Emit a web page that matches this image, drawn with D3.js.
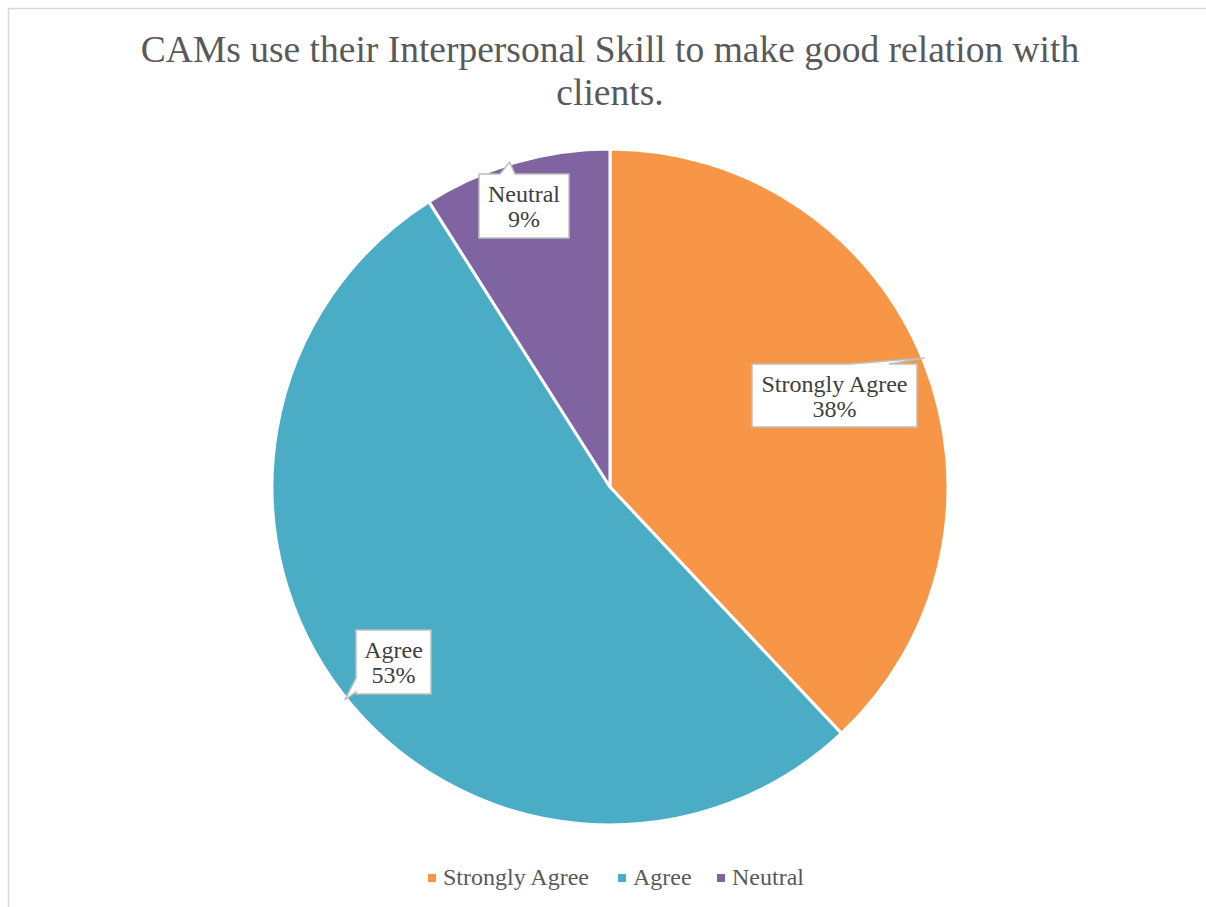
<!DOCTYPE html>
<html>
<head>
<meta charset="utf-8">
<script src="https://cdn.jsdelivr.net/npm/d3@7"></script>
<style>
  html, body { margin: 0; padding: 0; background: #fff; }
  svg { display: block; }
  text { font-family: "Liberation Serif", "Times New Roman", Times, serif; }
</style>
</head>
<body>
<svg id="chart" width="1206" height="907"></svg>
<script>
// Survey responses
const categories = ["Strongly Agree", "Agree", "Neutral"];
const values = [38, 53, 9];
const titleLines = ["CAMs use their Interpersonal Skill to make good relation with", "clients."];

const colors = ["#F79646", "#4BACC6", "#8064A2"];

// Callout box layout per slice: box rect and pointer base on one box edge
const callouts = [
  { box: [752, 364, 917, 427], base: "top", b0: 850, b1: 889 },
  { box: [356, 630, 431, 694], base: "left", b0: 678, b1: 692 },
  { box: [479, 174, 569, 238], base: "top", b0: 500, b1: 515 }
];

const svg = d3.select("#chart");
const W = 1206, H = 907;

// Chart border
svg.append("rect")
  .attr("x", 8.5).attr("y", 8.5)
  .attr("width", W + 10).attr("height", H + 10)
  .attr("fill", "#fff").attr("stroke", "#d9d9d9").attr("stroke-width", 1.5);

// Title
svg.append("text")
  .attr("x", 610).attr("text-anchor", "middle")
  .style("font-size", "37.5px").attr("fill", "#595959")
  .selectAll("tspan").data(titleLines).join("tspan")
  .attr("x", 610).attr("y", (d, i) => 62 + i * 43)
  .text(d => d);

// Pie
const cx = 610, cy = 487, R = 338;
const pie = d3.pie().sort(null).value(d => d.v);
const data = categories.map((c, i) => ({ c, v: values[i], color: colors[i] }));
const arcs = pie(data);
const arc = d3.arc().innerRadius(0).outerRadius(R);

const g = svg.append("g").attr("transform", `translate(${cx},${cy})`);
g.selectAll("path.slice").data(arcs).join("path")
  .attr("class", "slice")
  .attr("d", arc)
  .attr("fill", d => d.data.color)
  .attr("stroke", "#fff").attr("stroke-width", 3).attr("stroke-linejoin", "round");

// Data label callouts, tip pointing at the slice's outer edge
const tipPoint = (a, frac) => {
  const ang = a.startAngle + (a.endAngle - a.startAngle) * frac;
  return [cx + (R + 2) * Math.sin(ang), cy - (R + 2) * Math.cos(ang)];
};
const tipFracs = [0.495, 0.495, 0.47];

arcs.forEach((a, i) => {
  const co = callouts[i];
  const [x0, y0, x1, y1] = co.box;
  const [tx, ty] = tipPoint(a, tipFracs[i]);
  let p;
  if (co.base === "top") {
    p = `M${x0},${y0} L${co.b0},${y0} L${tx},${ty} L${co.b1},${y0} L${x1},${y0} L${x1},${y1} L${x0},${y1} Z`;
  } else {
    p = `M${x0},${y0} L${x1},${y0} L${x1},${y1} L${x0},${y1} L${x0},${co.b1} L${tx},${ty} L${x0},${co.b0} Z`;
  }
  svg.append("path").attr("d", p)
    .attr("fill", "#fff").attr("stroke", "#bfbfbf").attr("stroke-width", 1.5);
  const mx = (x0 + x1) / 2, my = (y0 + y1) / 2;
  const t = svg.append("text").attr("text-anchor", "middle")
    .style("font-size", "24px").attr("fill", "#404040");
  t.append("tspan").attr("x", mx).attr("y", my - 4).text(a.data.c);
  t.append("tspan").attr("x", mx).attr("y", my + 21).text(Math.round(a.data.v) + "%");
});

// Legend
const legendX = [428, 618, 717];
const lg = svg.append("g");
data.forEach((d, i) => {
  lg.append("rect").attr("x", legendX[i]).attr("y", 874).attr("width", 8).attr("height", 8)
    .attr("fill", d.color);
  lg.append("text").attr("x", legendX[i] + 15).attr("y", 885)
    .style("font-size", "24px").attr("fill", "#595959")
    .text(d.c);
});
</script>
</body>
</html>
